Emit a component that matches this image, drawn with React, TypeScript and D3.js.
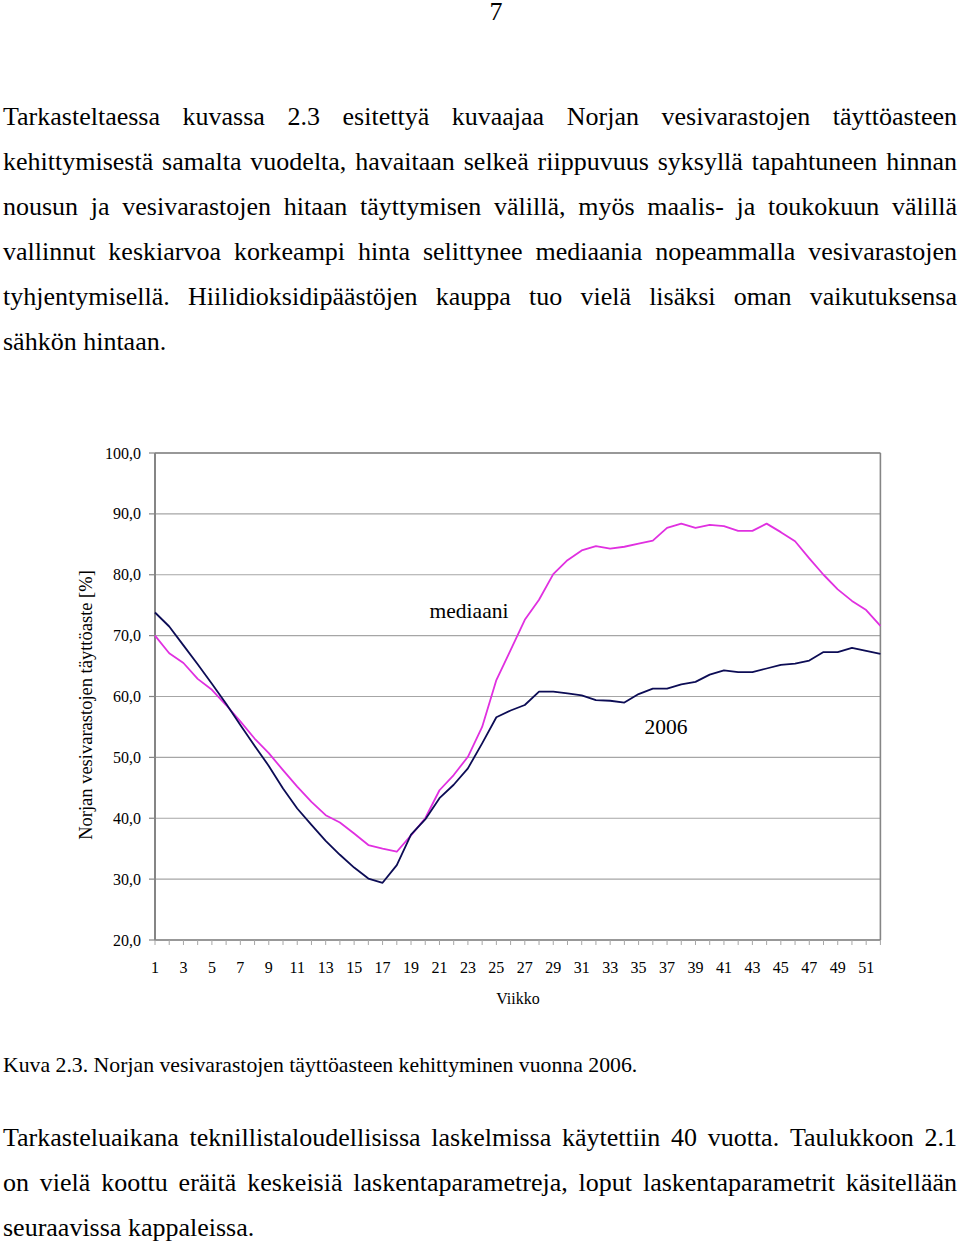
import React, { useMemo } from 'react';
import * as d3 from 'd3';

const weeks = [1,2,3,4,5,6,7,8,9,10,11,12,13,14,15,16,17,18,19,20,21,22,23,24,25,26,27,28,29,30,31,32,33,34,35,36,37,38,39,40,41,42,43,44,45,46,47,48,49,50,51,52];
const values2006 = [73.8,71.5,68.4,65.3,62.1,58.8,55.3,51.9,48.6,44.9,41.6,38.9,36.3,34.0,31.9,30.1,29.4,32.3,37.3,39.8,43.3,45.5,48.2,52.3,56.6,57.7,58.6,60.8,60.8,60.5,60.2,59.4,59.3,59.0,60.4,61.3,61.3,62.0,62.4,63.6,64.3,64.0,64.0,64.6,65.2,65.4,65.9,67.3,67.3,68.0,67.5,67.0];
const valuesMedian = [70.0,67.1,65.5,62.9,61.1,58.6,55.9,53.1,50.7,47.9,45.2,42.7,40.5,39.3,37.5,35.6,35.0,34.5,37.2,40.0,44.6,47.1,50.1,55.0,62.7,67.6,72.6,75.9,80.1,82.4,84.0,84.7,84.3,84.6,85.1,85.6,87.7,88.4,87.7,88.2,88.0,87.2,87.2,88.4,87.0,85.5,82.7,80.0,77.6,75.7,74.2,71.6];
const yTicks = [20,30,40,50,60,70,80,90,100];
const xLabelWeeks = [1,3,5,7,9,11,13,15,17,19,21,23,25,27,29,31,33,35,37,39,41,43,45,47,49,51];

const para1 = [
  'Tarkasteltaessa kuvassa 2.3 esitettyä kuvaajaa Norjan vesivarastojen täyttöasteen',
  'kehittymisestä samalta vuodelta, havaitaan selkeä riippuvuus syksyllä tapahtuneen hinnan',
  'nousun ja vesivarastojen hitaan täyttymisen välillä, myös maalis- ja toukokuun välillä',
  'vallinnut keskiarvoa korkeampi hinta selittynee mediaania nopeammalla vesivarastojen',
  'tyhjentymisellä. Hiilidioksidipäästöjen kauppa tuo vielä lisäksi oman vaikutuksensa',
  'sähkön hintaan.',
];
const para2 = [
  'Tarkasteluaikana teknillistaloudellisissa laskelmissa käytettiin 40 vuotta. Taulukkoon 2.1',
  'on vielä koottu eräitä keskeisiä laskentaparametreja, loput laskentaparametrit käsitellään',
  'seuraavissa kappaleissa.',
];
const caption = 'Kuva 2.3. Norjan vesivarastojen täyttöasteen kehittyminen vuonna 2006.';

const SERIF = "'Liberation Serif', 'Times New Roman', serif";
const BODY_SIZE = 26;
const LEFT = 3;
const RIGHT = 957;

let ctx: CanvasRenderingContext2D | null = null;
function measure(text: string, size: number): number {
  if (!ctx) {
    const c = document.createElement('canvas');
    ctx = c.getContext('2d');
  }
  if (!ctx) return text.length * size * 0.45;
  ctx.font = `${size}px ${SERIF}`;
  return ctx.measureText(text).width;
}

function Paragraph({ lines, top, gap }: { lines: string[]; top: number; gap: number }) {
  return (
    <g>
      {lines.map((line, i) => {
        const y = top + i * gap;
        const last = i === lines.length - 1;
        if (last) {
          return (
            <text key={i} x={LEFT} y={y} fontSize={BODY_SIZE} fontFamily={SERIF}>{line}</text>
          );
        }
        const words = line.split(' ');
        const widths = words.map((w) => measure(w, BODY_SIZE));
        const total = d3.sum(widths);
        const space = (RIGHT - LEFT - total) / (words.length - 1);
        let x = LEFT;
        return (
          <g key={i}>
            {words.map((w, j) => {
              const el = (
                <text key={j} x={x} y={y} fontSize={BODY_SIZE} fontFamily={SERIF}>{w}</text>
              );
              x += widths[j] + space;
              return el;
            })}
          </g>
        );
      })}
    </g>
  );
}

export default function App() {
  const x = useMemo(() => d3.scaleLinear().domain([1, 52]).range([155, 880.4]), []);
  const y = useMemo(() => d3.scaleLinear().domain([20, 100]).range([940, 453]), []);
  const line = d3.line<number>().x((_, i) => x(weeks[i])).y((d) => y(d));

  const gridColor = '#a6a6a6';
  const axisColor = '#858585';
  const x0 = x(1);
  const x1 = x(52);

  return (
    <svg width={960} height={1244} style={{ position: 'absolute', left: 0, top: 0, background: '#fff' }}>
      <rect x={0} y={0} width={960} height={1244} fill="#fff" />
      <text x={496} y={20} fontSize={BODY_SIZE} fontFamily={SERIF} textAnchor="middle">7</text>

      <Paragraph lines={para1} top={125} gap={45} />

      {/* chart */}
      <g>
        {yTicks.map((t) => (
          <line key={'g' + t} x1={x0} x2={x1} y1={y(t)} y2={y(t)} stroke={gridColor} strokeWidth={1.2} />
        ))}
        <line x1={x0} x2={x1} y1={y(100)} y2={y(100)} stroke={axisColor} strokeWidth={1.6} />
        <line x1={x1} x2={x1} y1={y(100)} y2={y(20)} stroke={axisColor} strokeWidth={1.6} />
        <line x1={x0} x2={x1} y1={y(20)} y2={y(20)} stroke={axisColor} strokeWidth={1.6} />
        {weeks.map((w) => (
          <line key={'xt' + w} x1={x(w)} x2={x(w)} y1={y(20)} y2={y(20) + 5} stroke={gridColor} strokeWidth={1} />
        ))}
        {yTicks.map((t) => (
          <line key={'yt' + t} x1={x0 - 6} x2={x0} y1={y(t)} y2={y(t)} stroke={axisColor} strokeWidth={1.2} />
        ))}
        <line x1={x0} x2={x0} y1={y(100)} y2={y(20)} stroke={axisColor} strokeWidth={2} />

        {yTicks.map((t) => (
          <text key={'yl' + t} x={141} y={y(t) + 5.5} fontSize={16} fontFamily={SERIF} textAnchor="end">
            {d3.format('.1f')(t).replace('.', ',')}
          </text>
        ))}
        {xLabelWeeks.map((w) => (
          <text key={'xl' + w} x={x(w)} y={973} fontSize={16} fontFamily={SERIF} textAnchor="middle">{w}</text>
        ))}
        <text x={518} y={1004} fontSize={16} fontFamily={SERIF} textAnchor="middle">Viikko</text>
        <text transform={`translate(92,705) rotate(-90)`} fontSize={18.5} fontFamily={SERIF} textAnchor="middle">
          Norjan vesivarastojen täyttöaste [%]
        </text>

        <path d={line(valuesMedian) || ''} fill="none" stroke="#e030e0" strokeWidth={1.8} strokeLinejoin="round" />
        <path d={line(values2006) || ''} fill="none" stroke="#0c0c55" strokeWidth={1.8} strokeLinejoin="round" />

        <text x={469} y={618} fontSize={21.5} fontFamily={SERIF} textAnchor="middle">mediaani</text>
        <text x={666} y={734} fontSize={21.5} fontFamily={SERIF} textAnchor="middle">2006</text>
      </g>

      <text x={LEFT} y={1072} fontSize={21.75} fontFamily={SERIF}>{caption}</text>

      <Paragraph lines={para2} top={1146} gap={45} />
    </svg>
  );
}
